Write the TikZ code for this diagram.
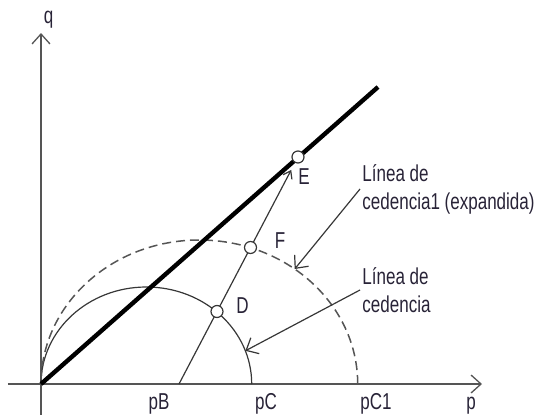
\documentclass[tikz,border=0pt]{standalone}
\usepackage{fontspec}
\setmainfont{Liberation Sans}[FakeStretch=0.74]
\usetikzlibrary{arrows.meta, positioning, backgrounds}
\definecolor{axisgray}{RGB}{85,85,85}
\definecolor{curvegray}{RGB}{55,55,55}
\definecolor{inkdark}{RGB}{40,35,55}

\begin{document}
\begin{tikzpicture}[x=0.5pt, y=0.5pt, >={Straight Barb[length=5pt,width=9pt]},
    lbl/.style={font=\fontsize{11.5}{14}\selectfont, text=inkdark, inner sep=0pt},
    statept/.style={circle, draw=curvegray, fill=white, line width=0.6pt,
                    minimum size=6pt, inner sep=0pt},
    thinline/.style={draw=curvegray, line width=0.6pt}]

  \useasboundingbox (-41,-30) rectangle (494,384);

  % points on the p axis
  \coordinate (O) at (0,0);
  \coordinate (pB) at (138,0);
  \coordinate (pC) at (210.7,0);
  \coordinate (pC1) at (316.7,0);
  \coordinate (csl) at (337,297);

  % stress states
  \node[statept] (D) at (176,72.5) {};
  \node[statept] (F) at (209.5,136.5) {};
  \node[statept] (E) at (257,227) {};

  \node[lbl, anchor=base] (Dlab) at (201.5,70.5) {D};
  \node[lbl, anchor=base] (Flab) at (239,135.8) {F};
  \node[lbl, anchor=base] (Elab) at (263,199.8) {E};

  % axis labels
  \node[lbl, anchor=base] (qlab) at (7.5,360.3) {q};
  \node[lbl, anchor=base] (pBlab) at (118,-25.5) {pB};
  \node[lbl, anchor=base] (pClab) at (225,-25.5) {pC};
  \node[lbl, anchor=base] (pC1lab) at (335,-25.5) {pC1};
  \node[lbl, anchor=base] (plab) at (430,-25.5) {p};

  % yield line labels
  \node[lbl, anchor=west, align=left] (ced1) at (321,195) {Línea de\\cedencia1 (expandida)};
  \node[lbl, anchor=west, align=left] (ced) at (321,94) {Línea de\\cedencia};
  \coordinate (t1) at (253.7,115);
  \coordinate (t2) at (204.4,33.2);

  \begin{scope}[on background layer]
    \draw[axisgray, line width=0.65pt, ->] (-33,0) -- (441,0);
    \draw[axisgray, line width=0.65pt, ->] (0,-32) -- (0,351);
    \draw[thinline] (pC) arc[start angle=0, end angle=180, x radius=105.35, y radius=97];
    \draw[axisgray, line width=0.75pt, dash pattern=on 4.5pt off 2.5pt]
      (pC1) arc[start angle=0, end angle=180, x radius=158.35, y radius=144];
    \draw[black, line width=2.2pt] (O) -- (csl);
    \draw[thinline, -{Straight Barb[length=3.5pt,width=5pt]}, shorten >=4pt] (pB) -- (E);
    \draw[thinline, ->] ([xshift=-1pt]ced1.west) -- (t1);
    \draw[thinline, ->] ([xshift=-1pt]ced.west) -- (t2);
  \end{scope}
\end{tikzpicture}
\end{document}
